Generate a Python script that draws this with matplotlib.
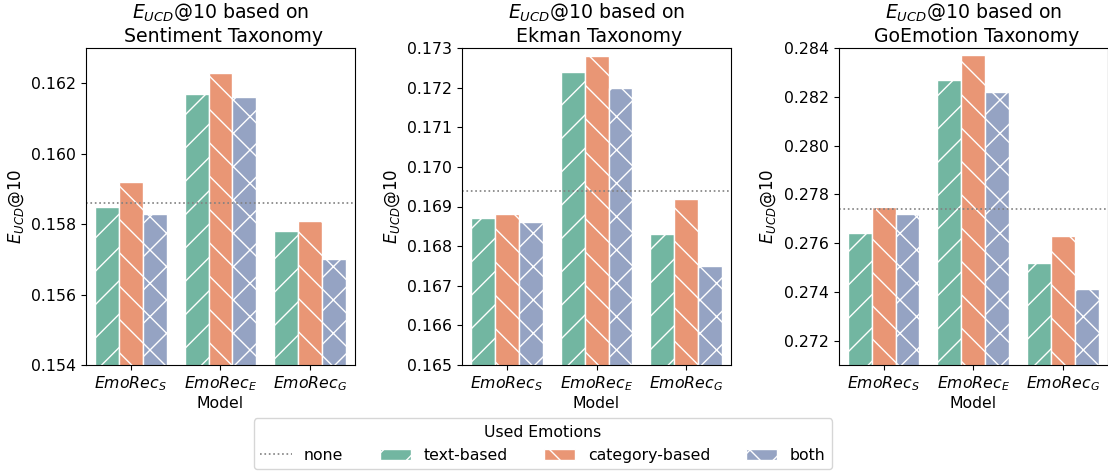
import matplotlib
matplotlib.use("Agg")
import matplotlib.pyplot as plt
import seaborn as sns
import numpy as np

# data
models = ["$EmoRec_S$", "$EmoRec_E$", "$EmoRec_G$"]
variants = ["text-based", "category-based", "both"]
taxonomies = ["Sentiment", "Ekman", "GoEmotion"]

sentiment_text = [0.1585, 0.1617, 0.1578]
sentiment_cat = [0.1592, 0.1623, 0.1581]
sentiment_both = [0.1583, 0.1616, 0.1570]
sentiment_none = 0.1586

ekman_text = [0.1687, 0.1724, 0.1683]
ekman_cat = [0.1688, 0.1728, 0.1692]
ekman_both = [0.1686, 0.1720, 0.1675]
ekman_none = 0.1694

goemo_text = [0.2764, 0.2827, 0.2752]
goemo_cat = [0.2775, 0.2837, 0.2763]
goemo_both = [0.2772, 0.2822, 0.2741]
goemo_none = 0.2774

ylims = [(0.154, 0.163), (0.165, 0.173), (0.271, 0.284)]
yticks = [np.arange(0.154, 0.1625, 0.002), np.arange(0.165, 0.1735, 0.001),
          np.arange(0.272, 0.2845, 0.002)]

panels = [
    (sentiment_text, sentiment_cat, sentiment_both, sentiment_none),
    (ekman_text, ekman_cat, ekman_both, ekman_none),
    (goemo_text, goemo_cat, goemo_both, goemo_none),
]

plt.rcParams["font.size"] = 11.3
colors = sns.color_palette("Set2", 3, desat=0.75)
hatches = ["/", "\\", "x"]

fig = plt.figure(figsize=(11.08, 4.72), dpi=100)
lefts = [0.0776, 0.417, 0.757]
axes = [fig.add_axes([l, 0.2267, 0.2428, 0.6716]) for l in lefts]

width = 0.8 / 3
x = np.arange(len(models))
for k, ax in enumerate(axes):
    text_v, cat_v, both_v, none_v = panels[k]
    line = ax.axhline(none_v, color="gray", linestyle=":", linewidth=1.2, label="none")
    bars = []
    for j, vals in enumerate([text_v, cat_v, both_v]):
        b = ax.bar(x + (j - 1) * width, vals, width, color=colors[j],
                   edgecolor="white", linewidth=1, hatch=hatches[j], label=variants[j])
        bars.append(b)
    ax.set_ylim(*ylims[k])
    ax.set_yticks(yticks[k])
    ax.set_yticklabels(["%.3f" % t for t in yticks[k]])
    ax.set_xlim(-0.5, 2.5)
    ax.set_xticks(x)
    ax.set_xticklabels(models)
    ax.set_xlabel("Model", labelpad=2)
    ax.set_ylabel("$E_{UCD}$@10", fontsize=12)
    ax.set_title("$E_{UCD}$@10 based on\n " + taxonomies[k] + " Taxonomy", pad=4)

handles = [line] + bars
fig.legend(handles, ["none"] + variants, title="Used Emotions", ncol=4,
           loc="lower center", bbox_to_anchor=(0.49, 0.0), columnspacing=2.3,
           handlelength=2.0, borderaxespad=0.2)

fig.savefig("out.png", dpi=100)
